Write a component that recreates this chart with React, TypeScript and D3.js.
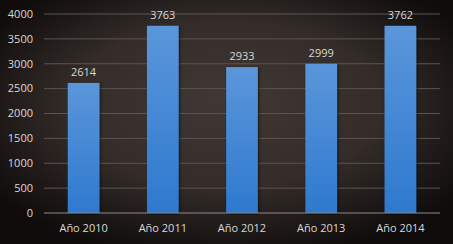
import React from "react";
import * as d3 from "d3";

const categories = ["Año 2010", "Año 2011", "Año 2012", "Año 2013", "Año 2014"];
const values = [2614, 3763, 2933, 2999, 3762];
const yTicks = [0, 500, 1000, 1500, 2000, 2500, 3000, 3500, 4000];

const W = 453;
const H = 244;
const M = { left: 44, right: 13, top: 14, bottom: 31 };

export default function App() {
  const x = d3
    .scaleBand<string>()
    .domain(categories)
    .range([M.left, W - M.right])
    .paddingInner(0.6)
    .paddingOuter(0.3);
  const y = d3.scaleLinear().domain([0, 4000]).range([H - M.bottom, M.top]);
  const font = "'Open Sans', 'Noto Sans', sans-serif";
  const txt = "#d9d9d9";

  return (
    <svg
      width={W}
      height={H}
      style={{ position: "absolute", left: 0, top: 0, display: "block" }}
      fontFamily={font}
    >
      <defs>
        <radialGradient id="bg" cx="0.5" cy="0.45" r="0.62" fx="0.5" fy="0.4">
          <stop offset="0%" stopColor="#3f3835" />
          <stop offset="55%" stopColor="#332c29" />
          <stop offset="100%" stopColor="#0f0c0b" />
        </radialGradient>
        <linearGradient id="bar" x1="0" y1="0" x2="0" y2="1">
          <stop offset="0%" stopColor="#5b96da" />
          <stop offset="100%" stopColor="#2e79cf" />
        </linearGradient>
        <filter id="sh" x="-30%" y="-10%" width="160%" height="120%">
          <feDropShadow dx="1" dy="1" stdDeviation="1.5" floodColor="#000" floodOpacity="0.6" />
        </filter>
      </defs>
      <rect x={0} y={0} width={W} height={H} fill="url(#bg)" />
      {yTicks.map((t) =>
        t === 0 ? null : (
          <line
            key={t}
            x1={M.left}
            x2={W - M.right}
            y1={y(t)}
            y2={y(t)}
            stroke="#5c5451"
            strokeWidth={1}
          />
        )
      )}
      {yTicks.map((t) => (
        <text
          key={"l" + t}
          x={33}
          y={y(t)}
          dy="0.35em"
          textAnchor="end"
          fontSize={11}
          fill={txt}
        >
          {t}
        </text>
      ))}
      {categories.map((c, i) => (
        <g key={c}>
          <rect
            x={x(c)}
            y={y(values[i])}
            width={x.bandwidth()}
            height={y(0) - y(values[i])}
            fill="url(#bar)"
            filter="url(#sh)"
          />
          <text
            x={(x(c) as number) + x.bandwidth() / 2}
            y={y(values[i]) - 7}
            textAnchor="middle"
            fontSize={11}
            fill={txt}
          >
            {values[i]}
          </text>
          <text
            x={(x(c) as number) + x.bandwidth() / 2}
            y={H - M.bottom + 19}
            textAnchor="middle"
            fontSize={11}
            fill={txt}
          >
            {c}
          </text>
        </g>
      ))}
      <line
        x1={M.left}
        x2={W - M.right}
        y1={y(0)}
        y2={y(0)}
        stroke="#8f8a88"
        strokeWidth={1}
      />
    </svg>
  );
}
